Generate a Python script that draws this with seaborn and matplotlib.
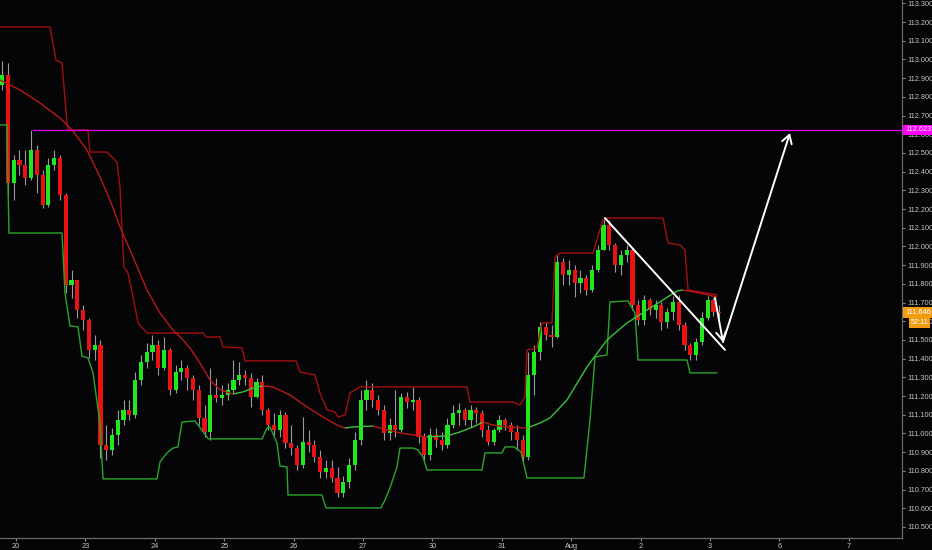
import matplotlib
matplotlib.use("Agg")
import matplotlib.pyplot as plt
from matplotlib.collections import LineCollection
import numpy as np
import pandas as pd
import seaborn as sns

# 2-hour bars, x in trading days (0 = Jul 20)
open0 = 112.863
close = [112.917, 112.339, 112.462, 112.436, 112.366, 112.516, 112.382, 112.222, 112.436, 112.473,
         112.275, 111.794, 111.821, 111.660, 111.607, 111.446, 111.473, 110.938, 110.912, 110.992,
         111.072, 111.126, 111.099, 111.286, 111.382, 111.436, 111.473, 111.350, 111.446, 111.232,
         111.329, 111.350, 111.297, 111.232, 111.083, 111.008, 111.206, 111.190, 111.206, 111.232,
         111.286, 111.313, 111.297, 111.195, 111.275, 111.126, 111.045, 111.019, 111.099, 110.949,
         110.922, 110.831, 110.954, 110.938, 110.874, 110.794, 110.815, 110.762, 110.682, 110.741,
         110.831, 110.965, 111.179, 111.232, 111.179, 111.126, 111.003, 111.045, 111.019, 111.195,
         111.168, 111.179, 110.981, 110.885, 110.992, 110.965, 110.938, 111.045, 111.109, 111.126,
         111.072, 111.126, 111.109, 111.019, 110.954, 111.019, 111.072, 111.045, 111.008, 110.965,
         110.874, 111.313, 111.436, 111.569, 111.527, 111.516, 111.917, 111.847, 111.874, 111.805,
         111.831, 111.767, 111.874, 111.981, 112.115, 112.008, 111.901, 111.954, 111.981, 111.687,
         111.607, 111.714, 111.660, 111.687, 111.596, 111.650, 111.703, 111.580, 111.473, 111.420,
         111.489, 111.618, 111.714, 111.650, 111.646]
high = [112.992, 112.981, 112.489, 112.516, 112.516, 112.623, 112.543, 112.409, 112.473, 112.516,
        112.489, 112.286, 111.874, 111.821, 111.687, 111.618, 111.527, 111.500, 111.045, 111.029,
        111.126, 111.179, 111.179, 111.329, 111.420, 111.484, 111.527, 111.500, 111.516, 111.457,
        111.366, 111.393, 111.366, 111.313, 111.259, 111.152, 111.350, 111.297, 111.259, 111.270,
        111.393, 111.382, 111.339, 111.323, 111.297, 111.313, 111.136, 111.109, 111.126, 111.115,
        111.045, 110.938, 111.088, 111.019, 110.965, 110.912, 110.858, 110.858, 110.821, 110.773,
        110.869, 111.008, 111.232, 111.286, 111.270, 111.206, 111.152, 111.083, 111.232, 111.216,
        111.222, 111.249, 111.195, 111.003, 111.029, 111.029, 111.008, 111.083, 111.152, 111.163,
        111.136, 111.152, 111.142, 111.126, 111.045, 111.029, 111.099, 111.083, 111.061, 111.045,
        110.992, 111.436, 111.473, 111.596, 111.596, 111.580, 111.954, 111.938, 111.928, 111.901,
        111.874, 111.847, 111.901, 112.008, 112.152, 112.142, 112.019, 111.981, 112.008, 111.992,
        111.714, 111.741, 111.724, 111.714, 111.703, 111.671, 111.735, 111.741, 111.596, 111.484,
        111.511, 111.650, 111.735, 111.724, 111.687]
low = [112.837, 112.275, 112.249, 112.382, 112.329, 112.355, 112.286, 112.206, 112.211, 112.409,
       112.249, 111.751, 111.724, 111.618, 111.553, 111.404, 111.393, 110.869, 110.858, 110.885,
       110.938, 111.045, 111.072, 111.083, 111.259, 111.350, 111.393, 111.313, 111.339, 111.206,
       111.216, 111.286, 111.232, 111.179, 111.045, 110.981, 110.965, 111.168, 111.152, 111.179,
       111.216, 111.259, 111.259, 111.142, 111.190, 111.099, 111.019, 110.992, 110.981, 110.922,
       110.885, 110.805, 110.815, 110.901, 110.847, 110.762, 110.762, 110.741, 110.660, 110.660,
       110.708, 110.805, 110.938, 111.126, 111.142, 111.099, 110.965, 110.965, 110.981, 111.008,
       111.136, 111.126, 110.949, 110.858, 110.858, 110.928, 110.912, 110.922, 111.029, 111.045,
       111.045, 111.035, 111.056, 110.981, 110.938, 110.938, 111.008, 111.019, 110.965, 110.912,
       110.847, 110.858, 111.206, 111.393, 111.500, 111.462, 111.511, 111.794, 111.794, 111.730,
       111.751, 111.741, 111.757, 111.864, 111.981, 111.981, 111.864, 111.847, 111.917, 111.660,
       111.580, 111.580, 111.634, 111.618, 111.553, 111.564, 111.607, 111.553, 111.446, 111.393,
       111.393, 111.473, 111.607, 111.628, 111.618]

# channel high (red), channel low (green), moving average
upper_x = [-0.231, 0.490, 0.576, 0.663, 0.735, 0.749, 1.037, 1.066, 1.311, 1.455, 1.499, 1.542, 1.556,
           1.614, 1.715, 1.758, 1.888, 2.695, 2.738, 2.939, 2.983, 3.257, 3.300, 4.035, 4.092, 4.308,
           4.380, 4.481, 4.597, 4.640, 4.741, 4.813, 4.957, 6.499, 6.542, 7.161, 7.262, 7.334, 7.363,
           7.507, 7.579, 7.723, 7.767, 7.839, 8.314, 8.458, 8.516, 9.323, 9.395, 9.568, 9.640, 9.683,
           9.856, 10.101]
upper_y = [113.174, 113.174, 112.997, 112.981, 112.660, 112.623, 112.623, 112.505, 112.505, 112.451,
           112.318, 111.981, 111.890, 111.858, 111.676, 111.591, 111.537, 111.537, 111.516, 111.516,
           111.463, 111.457, 111.388, 111.388, 111.329, 111.313, 111.217, 111.126, 111.115, 111.088,
           111.099, 111.217, 111.249, 111.249, 111.168, 111.168, 111.152, 111.195, 111.447, 111.457,
           111.591, 111.591, 111.944, 111.965, 111.965, 112.142, 112.152, 112.152, 112.019, 112.008,
           111.981, 111.767, 111.757, 111.741]
lower_x = [-0.231, -0.130, -0.115, -0.101, 0.663, 0.706, 0.778, 0.893, 0.951, 1.037, 1.110, 1.210,
           1.254, 2.032, 2.075, 2.176, 2.262, 2.334, 2.392, 2.579, 2.752, 2.767, 3.545, 3.617, 3.660,
           3.761, 3.804, 3.905, 3.919, 4.409, 4.467, 5.259, 5.317, 5.389, 5.490, 5.533, 5.720, 5.793,
           5.865, 5.922, 6.715, 6.758, 7.003, 7.046, 7.176, 7.277, 7.363, 8.184, 8.271, 8.343, 8.516,
           8.559, 8.818, 8.919, 8.963, 9.669, 9.712, 10.101]
lower_y = [112.650, 112.650, 112.329, 112.072, 112.072, 111.751, 111.575, 111.570, 111.414, 111.404,
           111.324, 111.056, 110.757, 110.757, 110.848, 110.896, 110.922, 110.928, 111.061, 111.067,
           110.981, 110.971, 110.971, 111.029, 111.035, 110.949, 110.826, 110.821, 110.671, 110.671,
           110.602, 110.602, 110.644, 110.709, 110.821, 110.922, 110.922, 110.912, 110.874, 110.805,
           110.805, 110.896, 110.896, 110.928, 110.928, 110.901, 110.762, 110.762, 111.072, 111.409,
           111.420, 111.703, 111.709, 111.644, 111.393, 111.393, 111.324, 111.324]
ma_x = [-0.231, 0.058, 0.346, 0.634, 0.807, 1.023, 1.210, 1.354, 1.499, 1.686, 1.888, 2.075, 2.262,
        2.406, 2.507, 2.651, 2.795, 2.939, 3.127, 3.271, 3.415, 3.559, 3.703, 3.948, 4.193, 4.424,
        4.625, 4.741, 4.856, 5.144, 5.245, 5.533, 5.922, 6.210, 6.398, 6.585, 6.729, 6.873, 7.075,
        7.363, 7.550, 7.695, 7.939, 8.228, 8.516, 8.804, 9.092, 9.323, 9.524, 9.611, 9.856, 10.101]
ma_y = [112.890, 112.837, 112.767, 112.687, 112.623, 112.516, 112.372, 112.249, 112.104, 111.944,
        111.767, 111.644, 111.553, 111.500, 111.457, 111.377, 111.286, 111.233, 111.211, 111.222,
        111.243, 111.254, 111.249, 111.206, 111.142, 111.088, 111.045, 111.029, 111.035, 111.040,
        111.029, 111.003, 110.981, 110.987, 111.008, 111.035, 111.061, 111.045, 111.035, 111.029,
        111.056, 111.083, 111.179, 111.356, 111.500, 111.591, 111.660, 111.714, 111.762, 111.767,
        111.751, 111.730]

resistance = 112.623
last_price = 111.646
countdown = "52:11"
trend_x = [8.487, 10.216]
trend_y = [112.152, 111.447]
path_x = [10.072, 10.187, 11.153]
path_y = [111.725, 111.489, 112.607]
day_labels = ["20", "23", "24", "25", "26", "27", "30", "31", "Aug", "2", "3", "6", "7"]

bg = "#050507"
sns.set_theme(style="dark", rc={"axes.facecolor": bg, "figure.facecolor": bg})
plt.rcParams["font.family"] = ["Liberation Sans", "DejaVu Sans"]

n = len(close)
df = pd.DataFrame({"t": np.arange(n) / 12 - 0.2, "close": close, "high": high, "low": low})
df["open"] = [open0] + close[:-1]

fig = plt.figure(figsize=(9.32, 5.5), dpi=100)
ax = fig.add_axes([0, 12 / 550, 902 / 932, 538 / 550])

# candles
ax.vlines(df["t"], df["low"], df["high"], color="#9a9a9a", lw=0.8, zorder=2)
up = df["close"] >= df["open"]
body_lo = np.minimum(df["open"], df["close"])
body_h = np.maximum((df["close"] - df["open"]).abs(), 0.004)
ax.bar(df["t"], body_h, bottom=body_lo, width=0.06,
       color=np.where(up, "#1fe81f", "#e81414"), linewidth=0, zorder=2.5)

# channels
sns.lineplot(x=upper_x, y=upper_y, ax=ax, color="#a01010", lw=1.0, estimator=None, sort=False, zorder=3)
sns.lineplot(x=lower_x, y=lower_y, ax=ax, color="#2aa52a", lw=1.0, estimator=None, sort=False, zorder=3)

# moving average, green when rising, red when falling
pts = np.column_stack([ma_x, ma_y])
segs = np.stack([pts[:-1], pts[1:]], axis=1)
seg_col = ["#3cc03c" if b > a else "#b81818" for a, b in zip(ma_y[:-1], ma_y[1:])]
ax.add_collection(LineCollection(segs, colors=seg_col, linewidths=1.0, zorder=3))

# resistance line
ax.plot([0.245, 13], [resistance, resistance], color="#d600d6", lw=1.0, zorder=3)

# drawings
ax.plot(trend_x, trend_y, color="white", lw=1.4, zorder=4)
ax.annotate("", xy=(path_x[1], path_y[1]), xytext=(path_x[0], path_y[0]),
            arrowprops=dict(arrowstyle="->,head_length=0.5,head_width=0.3", color="white", lw=1.4,
                            shrinkA=0, shrinkB=0), zorder=4)
ax.annotate("", xy=(path_x[2], path_y[2]), xytext=(path_x[1], path_y[1]),
            arrowprops=dict(arrowstyle="->,head_length=0.5,head_width=0.3", color="white", lw=1.4,
                            shrinkA=0, shrinkB=0), zorder=4)

ax.set_xlim(-0.2305, 12.767)
ax.set_ylim(110.441, 113.318)

# axes styling
yt = np.round(np.arange(110.5, 113.31, 0.1), 1)
ax.yaxis.tick_right()
ax.set_yticks(yt)
ax.set_yticklabels([f"{v:.3f}" for v in yt])
ax.set_xticks(range(len(day_labels)))
ax.set_xticklabels(day_labels)
ax.tick_params(axis="both", colors="#8a8a8a", labelcolor="#c4c4c4", labelsize=5.3,
               length=2.5, width=0.8, pad=1.2)
ax.tick_params(axis="x", direction="out", bottom=True)
ax.tick_params(axis="y", direction="out", right=True, left=False)
ax.grid(False)
for side in ["top", "left"]:
    ax.spines[side].set_visible(False)
for side in ["right", "bottom"]:
    ax.spines[side].set_visible(True)
    ax.spines[side].set_color("#6a6a6a")
    ax.spines[side].set_linewidth(0.9)
ax.set_xlabel("")
ax.set_ylabel("")

# price labels on the axis
ytr = ax.get_yaxis_transform()
box = dict(boxstyle="square,pad=0.25", ec="none")
ax.text(1.0035, resistance, f"{resistance:.3f}", transform=ytr, fontsize=5.3, color="white",
        va="center", ha="left", clip_on=False, zorder=6, bbox=dict(box, fc="#ff00ff"))
ax.text(1.0035, last_price, f"{last_price:.3f}", transform=ytr, fontsize=5.3, color="white",
        va="center", ha="left", clip_on=False, zorder=6, bbox=dict(box, fc="#f39c12"))
ax.text(1.0095, last_price - 0.053, countdown, transform=ytr, fontsize=5.3, color="white",
        va="center", ha="left", clip_on=False, zorder=6, bbox=dict(box, fc="#f39c12"))

fig.savefig("out.png", dpi=100, facecolor=bg)
